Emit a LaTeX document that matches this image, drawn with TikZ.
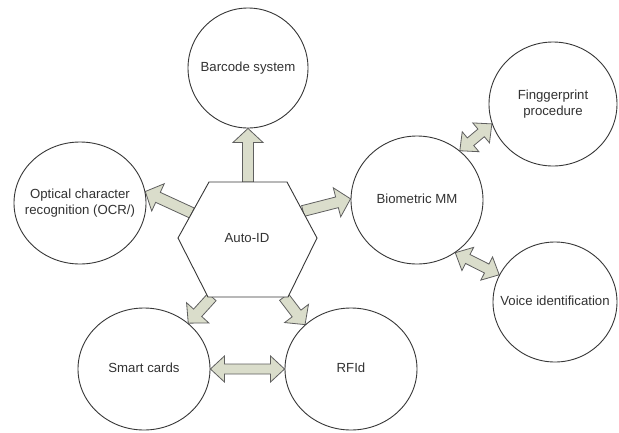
\documentclass[tikz,border=0pt]{standalone}
\usepackage{fontspec}
\setmainfont{Liberation Sans}
\usetikzlibrary{shapes.geometric,calc,backgrounds}
\definecolor{arrfill}{RGB}{218,221,203}
\definecolor{arrline}{RGB}{95,95,95}
\definecolor{circline}{RGB}{55,55,55}
\definecolor{txt}{RGB}{50,50,50}
\newcommand\ctext[1]{\makebox[0pt]{\begin{tabular}{@{}c@{}}#1\end{tabular}}}
\tikzset{
  bubble/.style={ellipse, draw=circline, line width=0.9pt, fill=white, inner sep=0pt,
    text=txt, font=\fontsize{13.2}{16}\selectfont},
  hexline/.style={draw=circline, line width=0.9pt, fill=white},
  arrowshape/.style={draw=arrline, fill=arrfill, line width=0.8pt, line join=miter},
}
\newcommand\baprep[2]{%
  \path let \p1=(#1), \p2=(#2), \n1={atan2(\y2-\y1,\x2-\x1)}, \n2={veclen(\x2-\x1,\y2-\y1)} in
    \pgfextra{\pgfmathsetmacro\baangtmp{\n1}\pgfmathsetmacro\balentmp{\n2}%
      \xdef\baang{\baangtmp}\xdef\balen{\balentmp}\xdef\bax{\x1}\xdef\bay{\y1}};}
\newcommand\blockarrow[2]{%
  \baprep{#1}{#2}%
  \draw[arrowshape, shift={(\bax,\bay)}, rotate=\baang]
    (0pt,-5.5pt) -- ({\balen pt-14pt},-5.5pt) -- ({\balen pt-14pt},-15pt) -- ({\balen pt},0pt)
    -- ({\balen pt-14pt},15pt) -- ({\balen pt-14pt},5.5pt) -- (0pt,5.5pt) -- cycle;}
\newcommand\dblockarrow[2]{%
  \baprep{#1}{#2}%
  \draw[arrowshape, shift={(\bax,\bay)}, rotate=\baang]
    (0pt,0pt) -- (14pt,13pt) -- (14pt,5pt) -- ({\balen pt-14pt},5pt) -- ({\balen pt-14pt},13pt)
    -- ({\balen pt},0pt) -- ({\balen pt-14pt},-13pt) -- ({\balen pt-14pt},-5pt)
    -- (14pt,-5pt) -- (14pt,-13pt) -- cycle;}
\begin{document}
\begin{tikzpicture}[x=1pt,y=-1pt]
\useasboundingbox (0,0) rectangle (619,432);
% hexagon
\draw[hexline] (178,238) -- (209,182) -- (287,182) -- (317,238) -- (288,297) -- (208,297) -- cycle;
\node[text=txt, font=\fontsize{13.2}{16}\selectfont] (hex) at (247,238) {Auto-ID};
\coordinate (h1) at (248,182);
\coordinate (h2) at (192,213);
\coordinate (h3) at (303,211);
\coordinate (h4) at (212,297);
\coordinate (h5) at (284,297);
% bubbles
\node[bubble, minimum width=120pt, minimum height=120pt] (bar) at (248,68) {\ctext{Barcode system}};
\node[bubble, minimum width=132pt, minimum height=122pt] (ocr) at (80,203) {\ctext{Optical character\\recognition (OCR/)}};
\node[bubble, minimum width=132pt, minimum height=128pt] (bio) at (417,200) {\ctext{Biometric MM}};
\node[bubble, minimum width=128pt, minimum height=124pt] (fin) at (553,104) {\ctext{Finggerprint\\procedure}};
\node[bubble, minimum width=124pt, minimum height=120pt] (voi) at (555,302) {\ctext{Voice identification}};
\node[bubble, minimum width=132pt, minimum height=122pt] (sma) at (144,369) {\ctext{Smart cards}};
\node[bubble, minimum width=132pt, minimum height=122pt] (rfi) at (351,369) {\ctext{RFId}};
% arrows
\begin{pgfonlayer}{background}
\fill[white] (0,0) rectangle (619,432);
\blockarrow{h1}{bar.south}
\blockarrow{h2}{ocr.10}
\blockarrow{h3}{bio.179}
\blockarrow{h4}{sma.46}
\blockarrow{h5}{rfi.136}
\dblockarrow{sma.east}{rfi.west}
\dblockarrow{bio.49}{fin.198}
\dblockarrow{bio.-54}{voi.154}
\end{pgfonlayer}
\end{tikzpicture}
\end{document}
